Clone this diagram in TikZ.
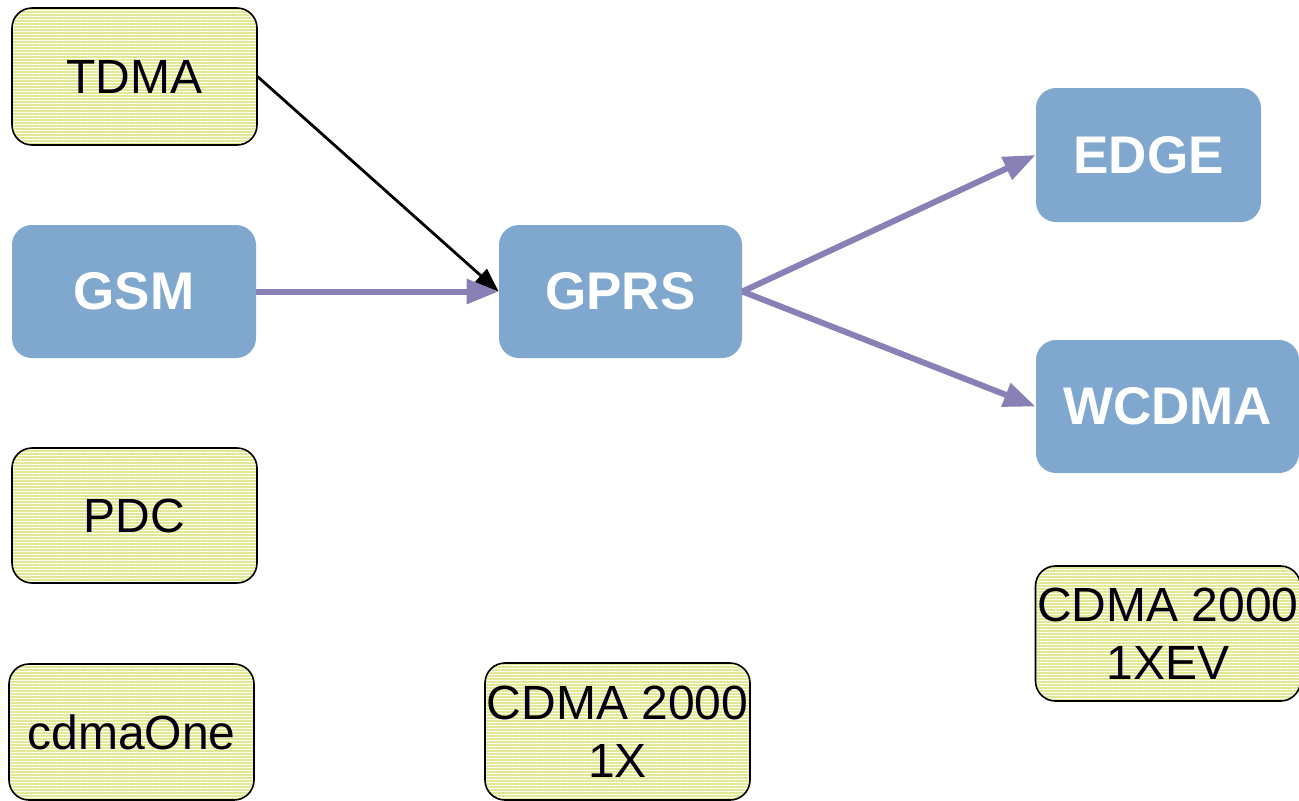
\documentclass[tikz,border=0pt]{standalone}
\usepackage{fontspec}
\setmainfont{Liberation Sans}
\usetikzlibrary{arrows.meta,patterns.meta}

\definecolor{techblue}{RGB}{128,167,206}
\definecolor{legacyyellow}{RGB}{226,232,150}
\definecolor{evolvepurple}{RGB}{137,128,182}

\begin{document}
\begin{tikzpicture}[
    x=0.5pt, y=-0.5pt,
    legacy/.style={rectangle, draw=black, line width=0.8pt, rounded corners=10pt,
        preaction={fill=legacyyellow},
        pattern={Lines[angle=0,distance=1.5pt,line width=0.5pt]}, pattern color=white,
        align=center, inner sep=0pt, font=\fontsize{24}{29}\selectfont},
    tech/.style={rectangle, fill=techblue, rounded corners=10pt, align=center,
        inner sep=0pt, text=white, font=\fontsize{26.5}{31}\selectfont\bfseries},
    evolve/.style={-{Triangle[length=16pt,width=12pt]}, line width=3pt, draw=evolvepurple},
    feed/.style={-{Triangle[length=12pt,width=9pt]}, line width=1.4pt}
]
\useasboundingbox (0,0) rectangle (1299,800);

% Legacy systems (left column)
\node[legacy, minimum width=122.5pt, minimum height=68.5pt] (tdma) at (134.5,76.5) {TDMA};
\node[legacy, minimum width=122.5pt, minimum height=67.5pt] (pdc) at (134.5,515.5) {PDC};
\node[legacy, minimum width=122.5pt, minimum height=68pt] (cdmaone) at (131.5,732) {cdmaOne};

% GSM path
\node[tech, minimum width=122pt, minimum height=66.5pt] (gsm) at (134,291.5) {GSM};
\node[tech, minimum width=121.5pt, minimum height=66.5pt] (gprs) at (620.5,291.5) {GPRS};
\node[tech, minimum width=112.5pt, minimum height=67pt] (edge) at (1148.5,155) {EDGE};
\node[tech, minimum width=131.5pt, minimum height=66.5pt] (wcdma) at (1167.5,406.5) {WCDMA};

% CDMA 2000
\node[legacy, minimum width=132.5pt, minimum height=68.5pt] (cdmax) at (617.5,731.5) {CDMA 2000\\1X};
\node[legacy, minimum width=132.5pt, minimum height=67.5pt] (cdmaxev) at (1168,633.5) {CDMA 2000\\1XEV};

% Arrows
\draw[feed] (tdma.east) -- (gprs.west);
\draw[evolve] (gsm) -- (gprs);
\draw[evolve] (gprs.east) -- (edge.west);
\draw[evolve] (gprs.east) -- (wcdma.west);

\end{tikzpicture}
\end{document}
